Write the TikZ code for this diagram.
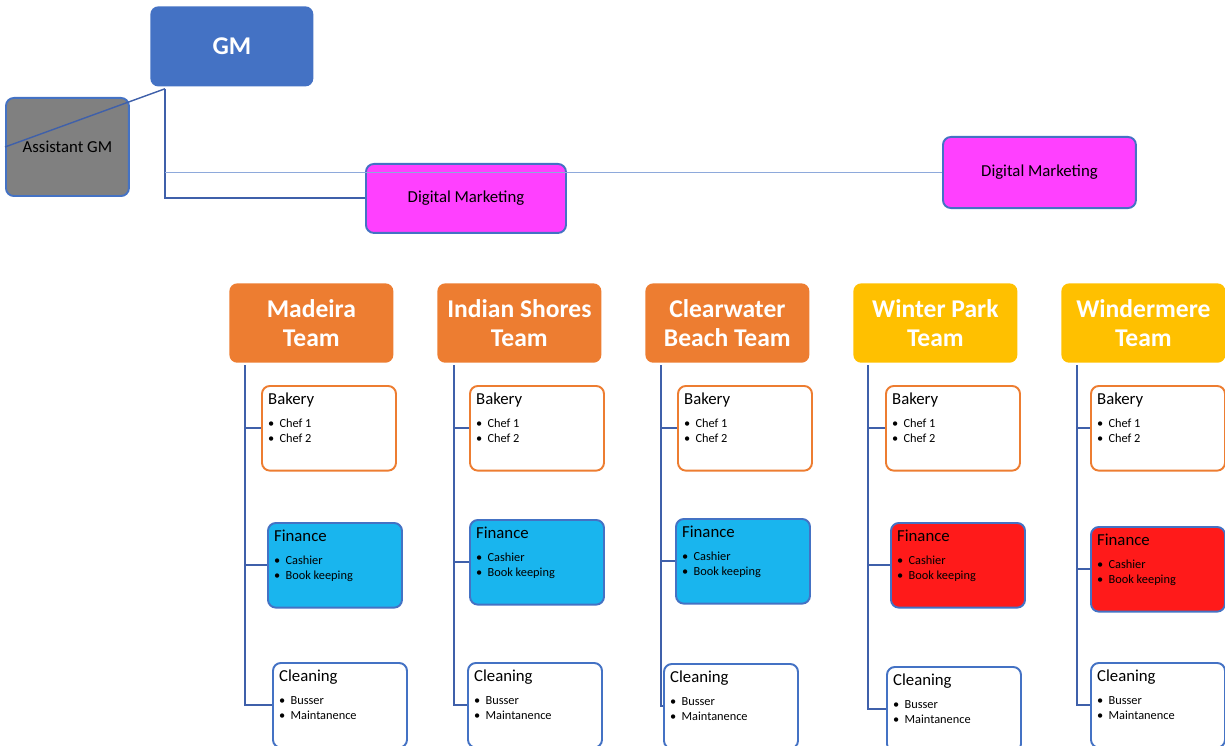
\documentclass[tikz,border=0pt]{standalone}
\usepackage{fontspec}
\setmainfont{Carlito}
\usepackage{tikz}
\usetikzlibrary{positioning}
\usetikzlibrary{calc}

\definecolor{gmblue}{HTML}{4472C4}
\definecolor{linkblue}{HTML}{3F60AA}
\definecolor{thinblue}{HTML}{8EA9DB}
\definecolor{agmgray}{HTML}{808080}
\definecolor{dmpink}{HTML}{FF40FF}
\definecolor{teamorange}{HTML}{ED7D31}
\definecolor{teamyellow}{HTML}{FFC000}
\definecolor{finblue}{HTML}{19B5EE}
\definecolor{finred}{HTML}{FF1A1A}

% box text: title and two bullet lines
\newcommand{\deptbox}[3]{\parbox[t][40pt][t]{69pt}{\fontsize{9.5}{11}\selectfont #1\par\vspace{4.5pt}%
  \fontsize{7}{8.5}\selectfont\textbullet\hspace{3pt}#2\par\textbullet\hspace{3pt}#3}}

\begin{document}
\begin{tikzpicture}[x=0.567pt, y=-0.567pt,
  box/.style={draw=gmblue, line width=1.1pt, rounded corners=4.5pt, anchor=north west},
  boss/.style={fill=gmblue, rounded corners=4.5pt, anchor=north west, text=white,
    minimum width=92.4pt, minimum height=45.4pt, font=\fontsize{14.5}{18}\selectfont\bfseries},
  team/.style={rounded corners=4.5pt, anchor=north west, text=white, align=center,
    minimum width=93pt, minimum height=45pt, inner sep=1pt, font=\fontsize{14.5}{16.5}\selectfont\bfseries},
  dept/.style={box, fill=white, minimum width=76pt, minimum height=47.6pt, inner xsep=3.4pt, inner ysep=4pt},
  small/.style={box, font=\fontsize{9.5}{11}\selectfont},
  link/.style={draw=linkblue, line width=1.1pt},
  thinlink/.style={draw=thinblue, line width=0.7pt}]

  \useasboundingbox (0,0) rectangle (1225,746);

  %top of the chart
  \node[boss] (gm) at (150,6) {GM};
  \node[small, fill=agmgray, minimum width=69.7pt, minimum height=55.6pt] (agm) at (5,97) {Assistant GM};
  \node[small, fill=dmpink, minimum width=113.4pt, minimum height=39.1pt] (dm1) at (365,163) {Digital Marketing};
  \node[small, fill=dmpink, minimum width=109.4pt, minimum height=40.3pt] (dm2) at (942,136) {Digital Marketing};

  \coordinate (gmfoot) at ([shift={(15,2)}]gm.south west);
  \draw[link, line width=0.8pt] (gmfoot) -- (agm.west);
  \draw[link] (gmfoot) |- (dm1.west);
  \draw[thinlink] (gmfoot |- dm2.west) -- (dm2.west);

  %teams
  \foreach \id/\hx/\lx/\bx/\fx/\fy/\cx/\cy/\fcol/\hcol/\ta/\tb in {
      mad/229/245/261/267/522/272/662/finblue/teamorange/Madeira/Team,
      ind/437/454/469/469/519/467/662/finblue/teamorange/Indian Shores/Team,
      clw/645/661/677/675/518/663/663/finblue/teamorange/Clearwater/Beach Team,
      wpk/853/868/885/890/522/886/666/finred/teamyellow/Winter Park/Team,
      wdm/1061/1077/1090/1090/526/1090/662/finred/teamyellow/Windermere/Team}{
    \node[team, fill=\hcol] (\id) at (\hx,283) {\ta\\\tb};
    \coordinate (\id top) at (\lx,365);
    \node[dept, draw=teamorange] (\id bak) at (\bx,385) {\deptbox{Bakery}{Chef 1}{Chef 2}};
    \node[dept, fill=\fcol] (\id fin) at (\fx,\fy) {\deptbox{Finance}{Cashier}{Book keeping}};
    \node[dept] (\id cln) at (\cx,\cy) {\deptbox{Cleaning}{Busser}{Maintanence}};
    \draw[link] (\id top) |- (\id bak.west);
    \draw[link] (\id top) |- (\id fin.west);
    \draw[link] (\id top) |- (\id cln.west);
  }

\end{tikzpicture}
\end{document}
